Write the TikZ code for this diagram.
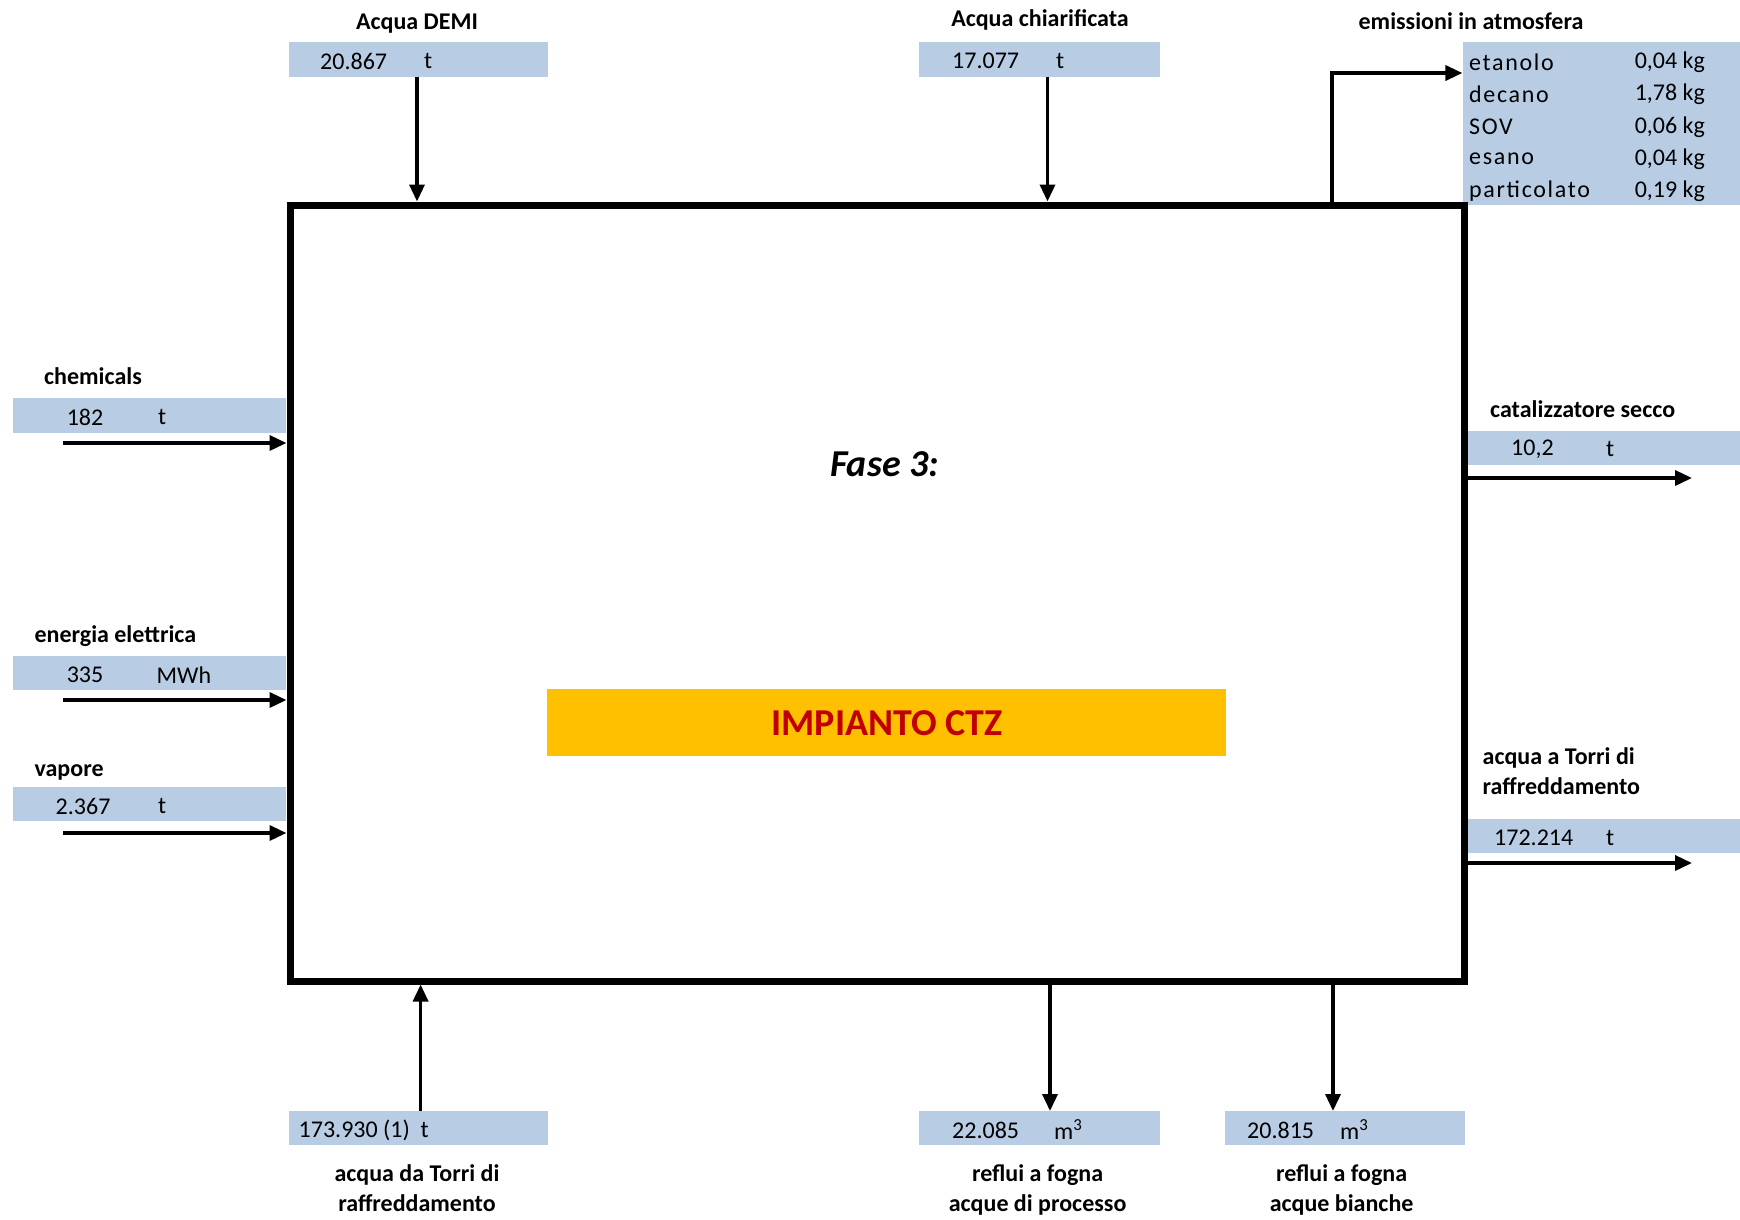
\documentclass[tikz,border=0pt]{standalone}
\usepackage{fontspec}
\setmainfont{Carlito}
\newfontfamily\spacedfont[LetterSpace=7]{Carlito}
\usetikzlibrary{arrows.meta}
\definecolor{boxblue}{RGB}{184,204,228}
\definecolor{ctzorange}{RGB}{255,192,0}
\definecolor{ctzred}{RGB}{192,0,0}
\begin{document}
\begin{tikzpicture}[x=1pt,y=-1pt,
  flow/.style={line width=3.5pt,-{Triangle[length=17pt,width=15pt]}},
  valbox/.style={fill=boxblue,draw=none,inner sep=0pt,minimum height=34.5pt},
  lbl/.style={font=\bfseries\fontsize{24}{30}\selectfont,inner sep=0pt},
  val/.style={font=\fontsize{24}{30}\selectfont,inner sep=0pt,anchor=west},
  emn/.style={font=\spacedfont\fontsize{24}{30}\selectfont,inner sep=0pt,anchor=west},
]
\useasboundingbox (0,0) rectangle (1740,1219);

% ---------- value boxes ----------
\node[valbox,minimum width=259.5pt] (demiv) at (418.25,59.3) {};
\node[valbox,minimum width=241pt] (chiv) at (1039.5,59.3) {};
\node[valbox,minimum width=277.4pt,minimum height=163pt] (emis) at (1601.3,123.5) {};
\node[valbox,minimum width=273pt] (chemv) at (149.5,415.5) {};
\node[valbox,minimum width=273pt] (enev) at (149.5,673) {};
\node[valbox,minimum width=273pt] (vapv) at (149.5,804) {};
\node[valbox,minimum width=272pt] (catv) at (1604,447.75) {};
\node[valbox,minimum width=272pt] (toutv) at (1604,836) {};
\node[valbox,minimum width=259.5pt] (tinv) at (418.25,1128) {};
\node[valbox,minimum width=241pt] (refpv) at (1039.5,1128) {};
\node[valbox,minimum width=240pt] (refbv) at (1345,1128) {};

% ---------- main box ----------
\node[draw,line width=7pt,minimum width=1174pt,minimum height=776pt,inner sep=0pt] (plant) at (877,593) {};
\node[fill=ctzorange,minimum width=679pt,minimum height=67pt,inner sep=0pt] (ctz) at (886.5,722.5) {};
\node[font=\bfseries\fontsize{38}{44}\selectfont,text=ctzred,inner sep=0pt] (ctzt) at (887,723.5) {IMPIANTO CTZ};
\node[font=\bfseries\itshape\fontsize{38}{44}\selectfont,inner sep=0pt] (fase) at (884.5,464) {Fase 3:};

% ---------- labels ----------
\node[lbl] (demil) at (417,23.5) {Acqua DEMI};
\node[lbl] (chil) at (1040,19.5) {Acqua chiarificata};
\node[lbl] (emisl) at (1471,21.5) {emissioni in atmosfera};
\node[lbl,anchor=west] (cheml) at (44,376.5) {chemicals};
\node[lbl,anchor=west] (enel) at (34.4,636) {energia elettrica};
\node[lbl,anchor=west] (vapl) at (34.4,772) {vapore};
\node[lbl,anchor=west] (catl) at (1490,409) {catalizzatore secco};
\node[lbl,anchor=north west,align=left] (toutl) at (1482.5,747) {acqua a Torri di\\raffreddamento};
\node[lbl,anchor=north,align=center] (tinl) at (417,1164) {acqua da Torri di\\raffreddamento};
\node[lbl,anchor=north,align=center] (refpl) at (1037.6,1164) {reflui a fogna\\acque di processo};
\node[lbl,anchor=north,align=center] (refbl) at (1341.6,1164) {reflui a fogna\\acque bianche};

% ---------- values ----------
\node[val] (demin) at (320,61) {20.867};
\node[val] (demiu) at (424,61) {t};
\node[val] (chin) at (952,61) {17.077};
\node[val] (chiu) at (1056,61) {t};
\node[val] (chemn) at (66.6,417) {182};
\node[val] (chemu) at (158,417) {t};
\node[val] (enen) at (66.6,675) {335};
\node[val] (eneu) at (156.5,675) {MWh};
\node[val] (vapn) at (55.5,806) {2.367};
\node[val] (vapu) at (158,806) {t};
\node[val] (catn) at (1511,449) {10,2};
\node[val] (catu) at (1606,449) {t};
\node[val] (toutn) at (1494,838) {172.214};
\node[val] (toutu) at (1606,838) {t};
\node[val] (tinn) at (298.5,1130) {173.930 (1)\ \ t};
\node[val] (refpn) at (952,1130) {22.085};
\node[val] (refpu) at (1054,1130) {m\textsuperscript{3}};
\node[val] (refbn) at (1247,1130) {20.815};
\node[val] (refbu) at (1340,1130) {m\textsuperscript{3}};

% ---------- emissions ----------
\node[emn] (e1n) at (1469,62) {etanolo};
\node[emn] (e2n) at (1469,94) {decano};
\node[emn] (e3n) at (1469,127) {SOV};
\node[emn] (e4n) at (1469,159) {esano};
\node[emn] (e5n) at (1469,191.5) {particolato};
\node[val] (e1v) at (1634.6,62) {0,04 kg};
\node[val] (e2v) at (1634.6,94) {1,78 kg};
\node[val] (e3v) at (1634.6,127) {0,06 kg};
\node[val] (e4v) at (1634.6,159) {0,04 kg};
\node[val] (e5v) at (1634.6,191.5) {0,19 kg};

% ---------- connectors ----------
\coordinate (demiA) at (417,76.6);
\draw[flow] (demiA) -- (demiA |- plant.north);
\coordinate (chiA) at (1047.5,76.6);
\draw[flow] (chiA) -- (chiA |- plant.north);
\coordinate (emisB) at (1332,73);
\draw[flow] (emisB |- plant.north) |- (emis.west |- emisB);

\coordinate (chemA) at (63,443);
\draw[flow] (chemA) -- (chemA -| plant.west);
\coordinate (eneA) at (63,700);
\draw[flow] (eneA) -- (eneA -| plant.west);
\coordinate (vapA) at (63,833);
\draw[flow] (vapA) -- (vapA -| plant.west);

\coordinate (catA) at (1692,478);
\draw[flow] (catA -| plant.east) -- (catA);
\coordinate (toutA) at (1692,863);
\draw[flow] (toutA -| plant.east) -- (toutA);

\coordinate (tinA) at (420.6,1111);
\draw[flow] (tinA) -- (tinA |- plant.south);
\coordinate (refpA) at (1050,1111);
\draw[flow] (refpA |- plant.south) -- (refpA);
\coordinate (refbA) at (1333,1111);
\draw[flow] (refbA |- plant.south) -- (refbA);
\end{tikzpicture}
\end{document}
